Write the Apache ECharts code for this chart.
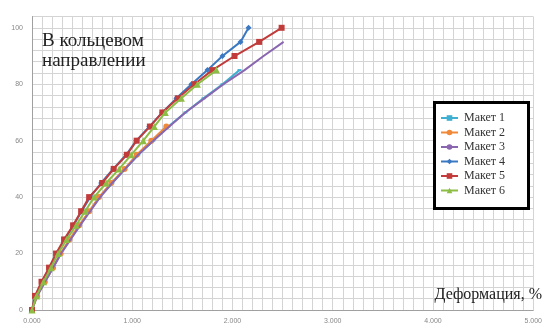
<!DOCTYPE html>
<html>
<head>
<meta charset="utf-8">
<script src="https://cdn.jsdelivr.net/npm/echarts@6/dist/echarts.min.js"></script>
<style>
html,body{margin:0;padding:0;background:#fff;}
#chart{width:545px;height:331px;}
</style>
</head>
<body>
<div id="chart"></div>
<script>
// Load levels (y values) shared by all series
const loadLevels = [0, 5, 10, 15, 20, 25, 30, 35, 40, 45, 50, 55, 60, 65, 70, 75, 80, 85, 90, 95, 100];
// Deformation, % (x values) per series
const maket1 = [0, 0.05, 0.13, 0.21, 0.29, 0.38, 0.475, 0.575, 0.675, 0.80, 0.93, 1.06, 1.21, 1.36, 1.53, 1.71, 1.90, 2.07];
const maket2 = [0, 0.052, 0.128, 0.21, 0.285, 0.373, 0.47, 0.57, 0.668, 0.79, 0.923, 1.044, 1.19, 1.34];
const maket3 = [0, 0.05, 0.13, 0.21, 0.29, 0.385, 0.48, 0.58, 0.68, 0.80, 0.93, 1.06, 1.21, 1.37, 1.53, 1.72, 1.91, 2.12, 2.31, 2.51];
const maket4 = [0, 0.035, 0.10, 0.175, 0.245, 0.325, 0.415, 0.495, 0.58, 0.69, 0.81, 0.94, 1.04, 1.17, 1.30, 1.44, 1.59, 1.75, 1.90, 2.08, 2.16];
const maket5 = [0, 0.03, 0.095, 0.17, 0.24, 0.32, 0.41, 0.49, 0.57, 0.70, 0.815, 0.946, 1.044, 1.176, 1.30, 1.454, 1.618, 1.80, 2.02, 2.266, 2.49];
const maket6 = [0, 0.045, 0.115, 0.19, 0.26, 0.345, 0.44, 0.53, 0.62, 0.74, 0.87, 0.99, 1.11, 1.22, 1.33, 1.49, 1.65, 1.84];
const seriesNames = ['Макет 1', 'Макет 2', 'Макет 3', 'Макет 4', 'Макет 5', 'Макет 6'];
const xTickLabels = ['0.000', '1.000', '2.000', '3.000', '4.000', '5.000'];
const yTickLabels = ['0', '20', '40', '60', '80', '100'];
const titleLines = ['В кольцевом', 'направлении'];
const xAxisTitle = 'Деформация, %';

const allX = [maket1, maket2, maket3, maket4, maket5, maket6];
const colors = ['#3fb0d2', '#f08a3a', '#8a66b0', '#3b78c2', '#c23b3b', '#8dbd45'];
const symbols = ['rect', 'circle', 'none', 'diamond', 'rect', 'triangle'];
const symbolSizes = [[4, 2], 6, 4, 6, 6, 7];

function pairs(xs) { return xs.map((x, i) => [x, loadLevels[i]]); }

const chart = echarts.init(document.getElementById('chart'), null, {renderer: 'canvas'});
const series = seriesNames.map((name, i) => ({
  name: name,
  type: 'line',
  data: pairs(allX[i]),
  symbol: symbols[i],
  symbolSize: symbolSizes[i],
  showSymbol: true,
  lineStyle: {width: 2, color: colors[i]},
  itemStyle: {color: colors[i]},
  animation: false,
  z: 3 + i
}));

chart.setOption({
  animation: false,
  backgroundColor: '#fff',
  grid: {left: 32, right: 4, top: 16.5, bottom: 21, containLabel: false},
  xAxis: {
    type: 'value', min: 0, max: 5, interval: 0.1,
    axisLine: {show: true, lineStyle: {color: '#a0a0a0', width: 1}},
    axisTick: {show: false},
    splitLine: {show: true, lineStyle: {color: '#d4d4d4', width: 1}},
    axisLabel: {
      margin: 8, fontSize: 7, color: '#888', fontFamily: 'Liberation Sans',
      formatter: function (v) {
        const r = Math.round(v);
        if (Math.abs(v - r) < 1e-6) return xTickLabels[r] || '';
        return '';
      }
    }
  },
  yAxis: {
    type: 'value', min: 0, max: 104, interval: 4,
    axisLine: {show: true, lineStyle: {color: '#a0a0a0', width: 1}},
    axisTick: {show: false},
    splitLine: {show: true, lineStyle: {color: '#d4d4d4', width: 1}},
    axisLabel: {
      margin: 9, fontSize: 7, color: '#888', fontFamily: 'Liberation Sans',
      formatter: function (v) {
        const r = Math.round(v);
        if (r % 20 === 0 && r <= 100) return yTickLabels[r / 20];
        return '';
      }
    }
  },
  legend: {
    show: true,
    orient: 'vertical',
    left: 440, top: 112,
    z: 30,
    itemWidth: 17, itemHeight: 7, itemGap: 2.5,
    padding: 0,
    textStyle: {fontFamily: 'Liberation Serif', fontSize: 12, color: '#333', lineHeight: 12, padding: [0, 0, 0, 1]},
    data: seriesNames
  },
  graphic: [
    {type: 'rect', left: 433, top: 101, shape: {width: 94, height: 106}, style: {fill: '#fff', stroke: '#000', lineWidth: 3}, z: 1, silent: true},
    {type: 'text', left: 42, top: 31, style: {text: titleLines.join('\n'), font: '19px "Liberation Serif"', fill: '#222', lineHeight: 20}, z: 10},
    {type: 'text', right: 3, top: 287, style: {text: xAxisTitle, font: '16px "Liberation Serif"', fill: '#222'}, z: 10}
  ],
  series: series
});
</script>
</body>
</html>
